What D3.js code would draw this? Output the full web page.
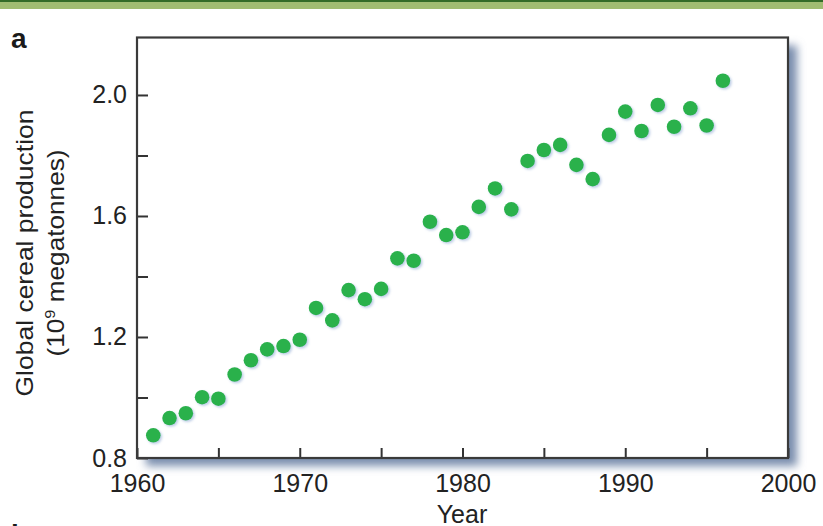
<!DOCTYPE html>
<html>
<head>
<meta charset="utf-8">
<script src="https://cdn.jsdelivr.net/npm/d3@7"></script>
<style>
  body { margin: 0; background: #fff; }
  text { font-family: "Liberation Sans", Arial, sans-serif; fill: #222; }
</style>
</head>
<body>
<script>
// Global cereal production, one point per year
var years = [1961, 1962, 1963, 1964, 1965, 1966, 1967, 1968, 1969, 1970,
             1971, 1972, 1973, 1974, 1975, 1976, 1977, 1978, 1979, 1980,
             1981, 1982, 1983, 1984, 1985, 1986, 1987, 1988, 1989, 1990,
             1991, 1992, 1993, 1994, 1995, 1996];
var production = [0.875, 0.932, 0.948, 1.001, 0.996, 1.076, 1.123, 1.159, 1.170, 1.191,
                  1.296, 1.255, 1.355, 1.325, 1.359, 1.460, 1.452, 1.581, 1.537, 1.546,
                  1.630, 1.691, 1.622, 1.782, 1.818, 1.835, 1.769, 1.722, 1.868, 1.945,
                  1.881, 1.967, 1.895, 1.956, 1.899, 2.047];

// Tick positions and labels (blank = unlabelled minor tick)
var xTicks = [1960, 1965, 1970, 1975, 1980, 1985, 1990, 1995, 2000];
var xLabels = ["1960", "", "1970", "", "1980", "", "1990", "", "2000"];
var yTicks = [0.8, 1.0, 1.2, 1.4, 1.6, 1.8, 2.0];
var yLabels = ["0.8", "", "1.2", "", "1.6", "", "2.0"];

var width = 823, height = 526;
var plotLeft = 137, plotRight = 788, plotTop = 37.5, plotBottom = 458;

var svg = d3.select("body").append("svg").attr("width", width).attr("height", height);

var defs = svg.append("defs");
defs.append("filter").attr("id", "boxShadow")
    .attr("x", "-10%").attr("y", "-10%").attr("width", "120%").attr("height", "120%")
    .append("feGaussianBlur").attr("stdDeviation", 4.5);
defs.append("filter").attr("id", "dotShadow")
    .attr("x", "-50%").attr("y", "-50%").attr("width", "200%").attr("height", "200%")
    .append("feDropShadow")
    .attr("dx", 1.5).attr("dy", 1.5).attr("stdDeviation", 1)
    .attr("flood-color", "#6f8fc8").attr("flood-opacity", 0.45);

// green header band
svg.append("rect").attr("x", 0).attr("y", 0).attr("width", width).attr("height", 9).style("fill", "#a0bc72");
svg.append("rect").attr("x", 0).attr("y", 0).attr("width", width).attr("height", 2).style("fill", "#336b28");

var x = d3.scaleLinear().domain([1960, 2000]).range([plotLeft, plotRight]);
var y = d3.scaleLinear().domain([0.8, 2.19]).range([plotBottom, plotTop]);

// box shadow, plot area, frame
svg.append("rect")
    .attr("x", plotLeft + 9).attr("y", plotTop + 8)
    .attr("width", plotRight - plotLeft).attr("height", plotBottom - plotTop)
    .style("fill", "#7a8eae")
    .attr("filter", "url(#boxShadow)");
svg.append("rect")
    .attr("x", plotLeft).attr("y", plotTop)
    .attr("width", plotRight - plotLeft).attr("height", plotBottom - plotTop)
    .style("fill", "#fff");

var xAxis = svg.append("g")
    .attr("transform", "translate(0," + plotBottom + ")")
    .call(d3.axisBottom(x).tickValues(xTicks).tickSize(-10).tickPadding(16)
        .tickFormat(function(d, i) { return xLabels[i]; }));
var yAxis = svg.append("g")
    .attr("transform", "translate(" + plotLeft + ",0)")
    .call(d3.axisLeft(y).tickValues(yTicks).tickSize(-11).tickPadding(10)
        .tickFormat(function(d, i) { return yLabels[i]; }));

[xAxis, yAxis].forEach(function(a) {
    a.select(".domain").remove();
    a.selectAll(".tick line").style("stroke", "#333").style("stroke-width", 2);
    a.selectAll(".tick text").style("font-size", "25px").style("fill", "#222")
        .style("font-family", "'Liberation Sans', Arial, sans-serif");
});

svg.append("rect")
    .attr("x", plotLeft).attr("y", plotTop)
    .attr("width", plotRight - plotLeft).attr("height", plotBottom - plotTop)
    .style("fill", "none").style("stroke", "#3a3a3a").style("stroke-width", 2.2);

// data points
svg.append("g").selectAll("circle")
    .data(years)
    .enter().append("circle")
    .attr("cx", function(d) { return x(d); })
    .attr("cy", function(d, i) { return y(production[i]); })
    .attr("r", 7.3)
    .style("fill", "#2bb14b")
    .attr("filter", "url(#dotShadow)");

// labels
svg.append("text").attr("x", 462).attr("y", 523)
    .attr("text-anchor", "middle").style("font-size", "25px").text("Year");

var yTitle = svg.append("text")
    .attr("transform", "translate(33,253) rotate(-90)")
    .attr("text-anchor", "middle").style("font-size", "24px");
yTitle.append("tspan").attr("x", 0).attr("y", 0)
    .attr("textLength", 287).attr("lengthAdjust", "spacingAndGlyphs")
    .text("Global cereal production");
var unit = yTitle.append("tspan").attr("x", 0).attr("y", 31)
    .attr("textLength", 207).attr("lengthAdjust", "spacingAndGlyphs");
unit.append("tspan").text("(10");
unit.append("tspan").attr("dy", -9).style("font-size", "15px").text("9");
unit.append("tspan").attr("dy", 9).text(" megatonnes)");

svg.append("text").attr("x", 11).attr("y", 48)
    .style("font-size", "28px").style("font-weight", "bold").style("fill", "#1a1a1a").text("a");
svg.append("text").attr("x", 11).attr("y", 544)
    .style("font-size", "28px").style("font-weight", "bold").style("fill", "#1a1a1a").text("b");
</script>
</body>
</html>
